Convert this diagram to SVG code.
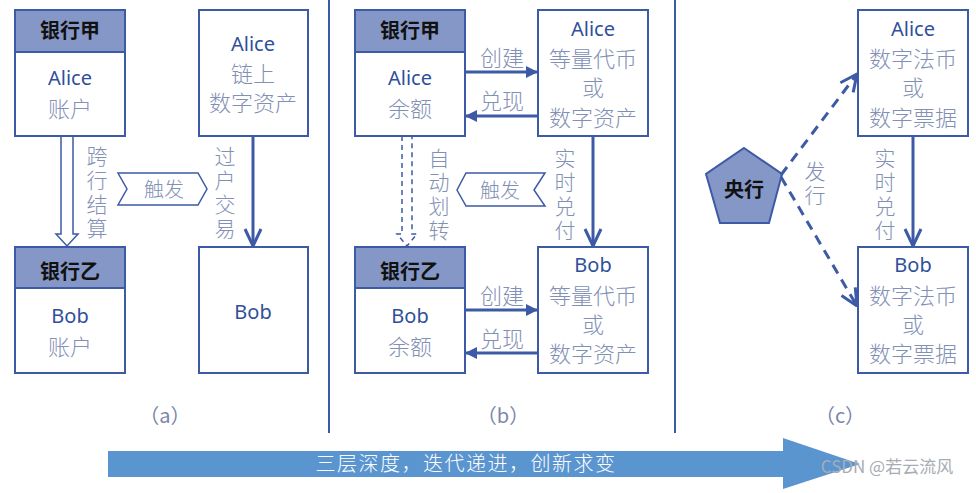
<svg xmlns="http://www.w3.org/2000/svg" width="976" height="493" viewBox="0 0 976 493">
<defs>
<style>
.box{fill:#fff;stroke:#3d5aa6;stroke-width:2}
.hdr{fill:#8597c6;stroke:#3d5aa6;stroke-width:2}
.en{font-family:"Noto Sans","Noto Sans CJK SC",sans-serif;font-size:20px;fill:#2f4f9a;text-anchor:middle}
.zh{font-family:"Noto Sans CJK SC",sans-serif;font-size:22px;fill:#8290b5;text-anchor:middle;font-weight:300}
.vt{font-family:"Noto Sans CJK SC",sans-serif;font-size:21px;fill:#8290b5;text-anchor:middle;font-weight:300;writing-mode:vertical-rl;letter-spacing:3px}
.hd{font-family:"Noto Sans CJK SC",sans-serif;font-size:20px;font-weight:bold;fill:#111;text-anchor:middle}
.ln{stroke:#3d5aa6;stroke-width:3;fill:none}
.thin{stroke:#3d5aa6;stroke-width:1.5;fill:none}
.dash{stroke:#3d5aa6;stroke-width:3;fill:none;stroke-dasharray:10 7}
.cap{font-family:"Noto Sans CJK SC",sans-serif;font-size:20px;fill:#7a86aa;text-anchor:middle}
</style>
<marker id="v" viewBox="0 0 20 20" refX="19" refY="10" markerWidth="20" markerHeight="20" markerUnits="userSpaceOnUse" orient="auto">
<path d="M2,2 L19,10 L2,18" fill="none" stroke="#3d5aa6" stroke-width="3"/>
</marker>
<marker id="tri" viewBox="0 0 12 12" refX="12" refY="6" markerWidth="12" markerHeight="12" markerUnits="userSpaceOnUse" orient="auto">
<path d="M0,0 L12,6 L0,12 Z" fill="#3d5aa6"/>
</marker>
</defs>
<rect width="976" height="493" fill="#fff"/>

<!-- dividers -->
<line x1="329" y1="0" x2="329" y2="433" stroke="#3d5aa6" stroke-width="2"/>
<line x1="675" y1="0" x2="675" y2="433" stroke="#3d5aa6" stroke-width="2"/>

<!-- Panel a -->
<g id="a-bankA">
<rect class="box" x="15" y="10" width="110" height="126"/>
<rect class="hdr" x="15" y="10" width="110" height="42"/>
<text class="hd" x="70" y="38">银行甲</text>
<text class="en" x="70" y="85">Alice</text>
<text class="zh" x="70" y="117">账户</text>
</g>
<g id="a-chainA">
<rect class="box" x="199" y="10" width="109" height="126"/>
<text class="en" x="253" y="51">Alice</text>
<text class="zh" x="253" y="82">链上</text>
<text class="zh" x="253" y="111">数字资产</text>
</g>
<g id="a-bankB">
<rect class="box" x="15" y="247" width="110" height="126"/>
<rect class="hdr" x="15" y="247" width="110" height="41"/>
<text class="hd" x="70" y="279">银行乙</text>
<text class="en" x="70" y="323">Bob</text>
<text class="zh" x="70" y="355">账户</text>
</g>
<g id="a-chainB">
<rect class="box" x="199" y="247" width="109" height="126"/>
<text class="en" x="253" y="319">Bob</text>
</g>
<g id="a-trigger">
<polygon points="118,173 198,173 207,189 198,205 118,205 127,189" fill="#fff" stroke="#3d5aa6" stroke-width="1.5"/>
<text class="zh" x="164" y="197" style="font-size:20px">触发</text>
</g>
<text class="cap" x="165" y="423">（a）</text>

<!-- Panel b -->
<g id="b-bankA">
<rect class="box" x="355" y="10" width="110" height="126"/>
<rect class="hdr" x="355" y="10" width="110" height="42"/>
<text class="hd" x="410" y="38">银行甲</text>
<text class="en" x="410" y="85">Alice</text>
<text class="zh" x="410" y="117">余额</text>
</g>
<g id="b-tokenA">
<rect class="box" x="538" y="10" width="110" height="126"/>
<text class="en" x="593" y="36">Alice</text>
<text class="zh" x="593" y="67">等量代币</text>
<text class="zh" x="593" y="96">或</text>
<text class="zh" x="593" y="126">数字资产</text>
</g>
<g id="b-bankB">
<rect class="box" x="355" y="247" width="110" height="126"/>
<rect class="hdr" x="355" y="247" width="110" height="41"/>
<text class="hd" x="410" y="279">银行乙</text>
<text class="en" x="410" y="323">Bob</text>
<text class="zh" x="410" y="355">余额</text>
</g>
<g id="b-tokenB">
<rect class="box" x="538" y="247" width="110" height="126"/>
<text class="en" x="593" y="272">Bob</text>
<text class="zh" x="593" y="304">等量代币</text>
<text class="zh" x="593" y="333">或</text>
<text class="zh" x="593" y="362">数字资产</text>
</g>
<g id="b-trigger">
<polygon points="545,173 466,173 457,190 466,206 545,206 534,190" fill="#fff" stroke="#3d5aa6" stroke-width="1.5"/>
<text class="zh" x="500" y="198" style="font-size:20px">触发</text>
</g>
<text class="cap" x="503" y="423">（b）</text>

<!-- Panel c -->
<g id="c-central">
<polygon points="744,148 782,174 769,223 720,223 706,174" fill="#8597c6" stroke="#3d5aa6" stroke-width="2"/>
<text class="hd" x="744" y="197">央行</text>
</g>
<g id="c-A">
<rect class="box" x="858" y="10" width="110" height="126"/>
<text class="en" x="913" y="36">Alice</text>
<text class="zh" x="913" y="67">数字法币</text>
<text class="zh" x="913" y="96">或</text>
<text class="zh" x="913" y="126">数字票据</text>
</g>
<g id="c-B">
<rect class="box" x="858" y="247" width="110" height="126"/>
<text class="en" x="913" y="272">Bob</text>
<text class="zh" x="913" y="304">数字法币</text>
<text class="zh" x="913" y="333">或</text>
<text class="zh" x="913" y="362">数字票据</text>
</g>
<text class="cap" x="840" y="423">（c）</text>

<!-- connectors -->
<g id="connectors">
<path class="thin" d="M61,136 V234 H56 L67,246 L78,234 H73 V136"/>
<line class="ln" x1="253" y1="136" x2="253" y2="246" marker-end="url(#v)"/>
<path class="thin" d="M402,136 V234 H397 L407,246 L417,234 H412 V136" stroke-dasharray="5 4"/>
<line class="ln" x1="465" y1="72" x2="538" y2="72" marker-end="url(#tri)"/>
<line class="ln" x1="538" y1="116" x2="465" y2="116" marker-end="url(#tri)"/>
<line class="ln" x1="465" y1="310" x2="538" y2="310" marker-end="url(#tri)"/>
<line class="ln" x1="538" y1="353" x2="465" y2="353" marker-end="url(#tri)"/>
<line class="ln" x1="593" y1="136" x2="593" y2="246" marker-end="url(#v)"/>
<line class="dash" x1="781" y1="175" x2="857" y2="74" marker-end="url(#v)"/>
<line class="dash" x1="781" y1="177" x2="857" y2="306" marker-end="url(#v)"/>
<line class="ln" x1="913" y1="136" x2="913" y2="246" marker-end="url(#v)"/>
</g>

<!-- connector labels -->
<g id="labels">
<text class="vt" x="97" y="194">跨行结算</text>
<text class="vt" x="225" y="194">过户交易</text>
<text class="zh" x="502" y="66">创建</text>
<text class="zh" x="502" y="109">兑现</text>
<text class="zh" x="502" y="304">创建</text>
<text class="zh" x="502" y="347">兑现</text>
<text class="vt" x="439" y="196">自动划转</text>
<text class="vt" x="565" y="196">实时兑付</text>
<text class="vt" x="815" y="185">发行</text>
<text class="vt" x="885" y="196">实时兑付</text>
</g>

<!-- bottom arrow -->
<g id="progress">
<polygon points="108,451 783,451 783,438 860,464 783,489 783,477 108,477" fill="#5b95d0"/>
<text x="466" y="471" font-family="Noto Sans CJK SC, sans-serif" font-size="20" font-weight="300" letter-spacing="1.5" fill="#fff" text-anchor="middle">三层深度，迭代递进，创新求变</text>
</g>
<text x="887" y="473" font-family="Noto Sans CJK SC, sans-serif" font-size="17" fill="#a8acb4" text-anchor="middle">CSDN @若云流风</text>
</svg>
